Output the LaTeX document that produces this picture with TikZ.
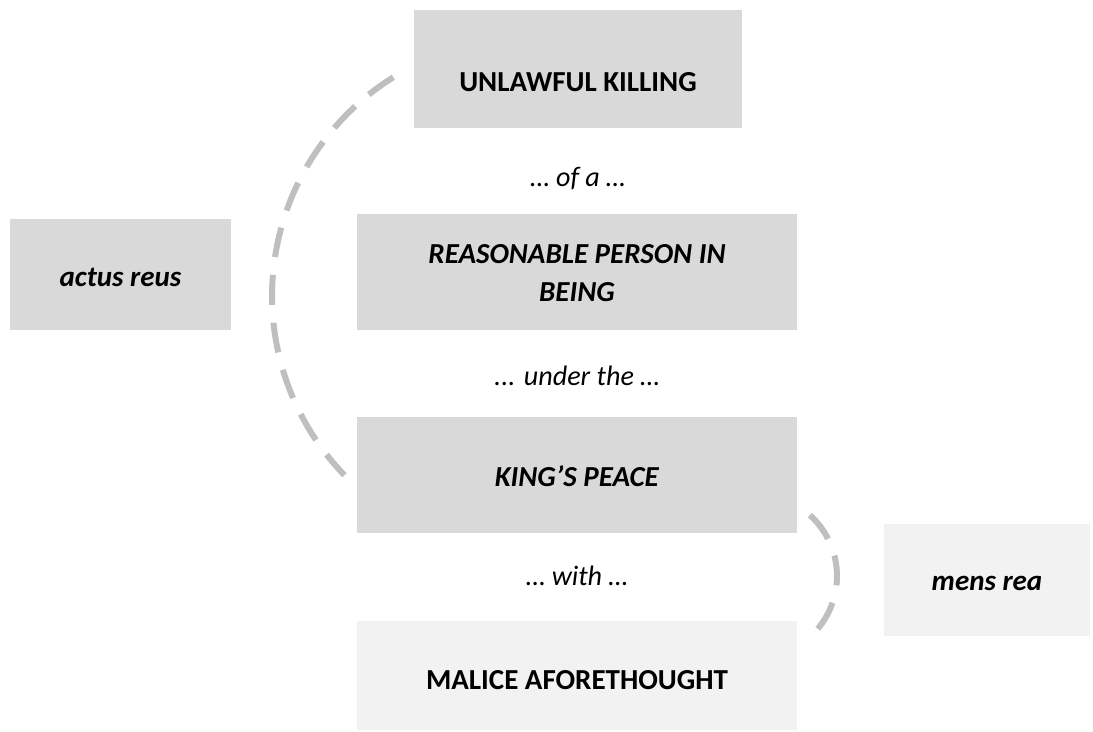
\documentclass[tikz,border=0pt]{standalone}
\usepackage{fontspec}
\setmainfont{Carlito}
\usepackage{xcolor}
\usepackage{tikz}
\usetikzlibrary{positioning,calc}
\definecolor{boxdark}{HTML}{D9D9D9}
\definecolor{boxlight}{HTML}{F2F2F2}
\definecolor{arcgrey}{HTML}{BFBFBF}

\begin{document}
\begin{tikzpicture}[x=0.02cm,y=-0.02cm,
    box/.style={fill=boxdark,inner sep=0pt,align=center,
        font=\fontsize{16.5}{21.6}\selectfont,text height=0.37cm,text depth=0pt},
    lightbox/.style={box,fill=boxlight},
    link/.style={font=\fontsize{16}{19}\selectfont\itshape},
    arcline/.style={draw=arcgrey,line width=0.12cm,dash pattern=on 0.6cm off 0.36cm}]
    \useasboundingbox (0,0) rectangle (1093,731);

    % Middle column
    \node[box,minimum width=6.56cm,minimum height=2.36cm,text height=0.88cm] (kill) at (578,69) {\textbf{UNLAWFUL KILLING}};
    \node[link] (ofa) at (578,179) {… of a …};
    \node[box,minimum width=8.8cm,minimum height=2.32cm,text height=1.16cm] (person) at (577,272)
        {\textbf{\textit{REASONABLE PERSON IN}}\\\textbf{\textit{BEING}}};
    \node[link] (under) at (577,376) {... under the …};
    \node[box,minimum width=8.8cm,minimum height=2.32cm,text height=0.45cm] (peace) at (577,475) {\textbf{\textit{KING’S PEACE}}};
    \node[link] (with) at (577,576) {… with …};
    \node[lightbox,minimum width=8.8cm,minimum height=2.18cm,text height=0.55cm] (malice) at (577,675.5) {\textbf{MALICE AFORETHOUGHT}};

    % Side boxes
    \node[box,minimum width=4.42cm,minimum height=2.22cm,text height=0.47cm] (actus) at (120.5,274.5) {\textbf{\textit{actus reus}}};
    \node[lightbox,minimum width=4.12cm,minimum height=2.24cm,text height=0.42cm] (mens) at (987,580) {\textbf{\textit{mens rea}}};

    % Dashed brackets
    \coordinate (arcL) at (530,296);
    \coordinate (arcR) at (755,576);
    \draw[arcline] (arcL) ++(122:5.16cm) arc[start angle=122,end angle=224,radius=5.16cm];
    \draw[arcline] (arcR) ++(48:1.64cm) arc[start angle=48,end angle=-47,radius=1.64cm];
\end{tikzpicture}
\end{document}
